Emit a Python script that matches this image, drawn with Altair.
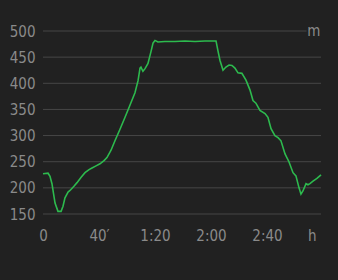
import altair as alt
import pandas as pd
import json

minutes = [0, 3.6, 5, 6.4, 8.6, 10.7, 12.9, 14.3, 15.7, 17.9, 19.3, 22.1, 24.3, 27.1, 30, 32.9, 35, 37.9,
           40.7, 43.6, 45.7, 48.6, 51.4, 55, 58.6, 62.1, 65.7, 67.9, 69.3, 70, 71.4, 72.9, 75, 77.1, 78.6,
           80, 82.1, 87, 94.3, 101.4, 108.6, 115.7, 123.6, 125, 126.4, 128.6, 130.7, 132.9, 135, 137.1,
           139.3, 142.1, 145, 147.9, 150, 152.1, 155, 158.6, 160.7, 162.9, 165.7, 167.9, 170, 172.9,
           175.7, 178.6, 180.7, 182.9, 184.3, 185.7, 187.9, 189.3, 190.7, 192.9, 195.7, 198.6]
elevation = [227, 228, 222, 208, 171, 155, 155, 165, 181, 192, 195, 203, 210, 220, 229, 235, 238, 242,
             246, 252, 258, 272, 290, 312, 335, 358, 382, 405, 429, 431, 423, 428, 438, 460, 477,
             482, 479, 480, 480, 481, 480, 481, 481, 462, 444, 425, 431, 435, 434, 429,
             420, 419, 406, 387, 367, 362, 348, 342, 335, 313, 300, 296, 290, 265,
             250, 229, 223, 200, 188, 194, 208, 206, 208, 213, 218, 225]

x_ticks = [0, 40, 80, 120, 160, 192]
x_labels = ["0", "40\u2032", "1:20", "2:00", "2:40", "h"]
y_ticks = [150, 200, 250, 300, 350, 400, 450, 500]
grid_end = [198.6, 198.6, 198.6, 198.6, 198.6, 198.6, 198.6, 188.3]
unit_pos = [(193.5, 500, "m")]

FONT = "'DejaVu Sans Condensed', 'Liberation Sans Narrow', 'Roboto Condensed', 'DejaVu Sans', sans-serif"
BG = "#212121"
LABEL = "#8a8a8a"

df = pd.DataFrame({"t": minutes, "e": elevation})
grid_df = pd.DataFrame({"y": y_ticks, "x0": [0] * len(y_ticks), "x1": grid_end})
unit_df = pd.DataFrame(unit_pos, columns=["t", "e", "txt"])

label_map = json.dumps({str(v): l for v, l in zip(x_ticks, x_labels)})

xscale = alt.Scale(domain=[0, 198.6], nice=False, zero=False)
yscale = alt.Scale(domain=[150, 500], nice=False, zero=False)

common = dict(domain=False, ticks=False, grid=False, labelFont=FONT, labelFontSize=15,
              labelColor=LABEL, title=None, labelOverlap=False, labelFlush=False)
xaxis = alt.Axis(values=x_ticks, labelExpr=f"{label_map}[datum.value + '']", labelPadding=14, **common)
yaxis = alt.Axis(values=y_ticks, labelPadding=8, **common)

grid = alt.Chart(grid_df).mark_rule(color="#474747", strokeWidth=1).encode(
    x=alt.X("x0:Q", scale=xscale, axis=xaxis),
    x2="x1:Q",
    y=alt.Y("y:Q", scale=yscale, axis=yaxis),
)

line = alt.Chart(df).mark_line(color="#2dba4e", strokeWidth=1.6).encode(
    x=alt.X("t:Q", scale=xscale, axis=xaxis),
    y=alt.Y("e:Q", scale=yscale, axis=yaxis),
)

unit = alt.Chart(unit_df).mark_text(font=FONT, fontSize=15, color=LABEL, align="center",
                                    baseline="middle").encode(
    x=alt.X("t:Q", scale=xscale, axis=xaxis),
    y=alt.Y("e:Q", scale=yscale, axis=yaxis),
    text="txt:N",
)

chart = alt.layer(grid, line, unit).properties(
    width=278, height=183, background=BG,
    padding={"left": 43, "top": 31, "right": 17, "bottom": 66},
    autosize=alt.AutoSizeParams(type="none"),
).configure_view(stroke=None)

chart.save("out.html", embed_options={"renderer": "svg", "actions": False})
